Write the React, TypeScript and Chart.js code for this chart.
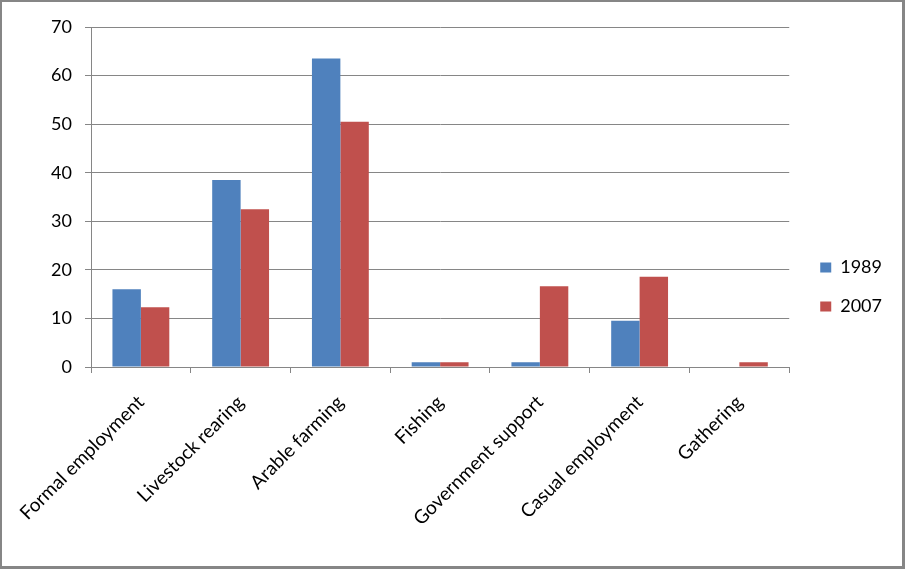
import React, { useEffect, useRef } from "react";
import { Chart, registerables } from "chart.js";

Chart.register(...registerables);

const categories = [
  "Formal employment",
  "Livestock rearing",
  "Arable farming",
  "Fishing",
  "Government support",
  "Casual employment",
  "Gathering",
];
const values1989 = [16, 38.5, 63.5, 1, 1, 9.5, 0];
const values2007 = [12.3, 32.5, 50.5, 1, 16.6, 18.6, 1];
const seriesLabels = ["1989", "2007"];
const yTicks = { min: 0, max: 70, step: 10 };

const FONT = "Lato, 'Open Sans', sans-serif";

const legendShift = {
  id: "legendShift",
  afterLayout(chart: any) {
    const lg = chart.legend;
    if (lg) {
      lg.left += 10;
      lg.right += 10;
    }
  },
};

export default function App() {
  const ref = useRef<HTMLCanvasElement | null>(null);

  useEffect(() => {
    if (!ref.current) return;
    const chart = new Chart(ref.current, {
      type: "bar",
      data: {
        labels: categories,
        datasets: [
          {
            label: seriesLabels[0],
            data: values1989,
            backgroundColor: "#4F81BD",
            borderWidth: 0,
          },
          {
            label: seriesLabels[1],
            data: values2007,
            backgroundColor: "#C0504D",
            borderWidth: 0,
          },
        ],
      },
      plugins: [legendShift],
      options: {
        animation: false,
        responsive: false,
        devicePixelRatio: 1,
        layout: { padding: { top: 25, right: 20, bottom: 19, left: 0 } },
        datasets: {
          bar: { categoryPercentage: 0.57, barPercentage: 1 },
        },
        plugins: {
          tooltip: { enabled: false },
          legend: {
            position: "right",
            labels: {
              boxWidth: 11,
              boxHeight: 10,
              padding: 21,
              color: "#000",
              font: { family: FONT, size: 18 },
            },
          },
        },
        scales: {
          x: {
            afterFit: (s: any) => {
              s.height = 180;
              s.paddingLeft = 0;
              s.paddingRight = 0;
            },
            grid: {
              display: true,
              drawOnChartArea: false,
              drawTicks: true,
              tickLength: 6,
              offset: true,
              color: "#868686",
            },
            border: { color: "#868686" },
            ticks: {
              minRotation: 45,
              maxRotation: 45,
              autoSkip: false,
              padding: 18,
              color: "#000",
              font: { family: FONT, size: 19 },
            },
          },
          y: {
            min: yTicks.min,
            max: yTicks.max,
            afterFit: (s: any) => {
              s.width = 89;
            },
            grid: {
              color: "#868686",
              tickLength: 6,
              drawTicks: true,
            },
            border: { color: "#868686" },
            ticks: {
              stepSize: yTicks.step,
              padding: 13,
              color: "#000",
              font: { family: FONT, size: 18 },
            },
          },
        },
      },
    });
    return () => chart.destroy();
  }, []);

  return (
    <div
      style={{
        position: "absolute",
        left: 0,
        top: 0,
        width: 905,
        height: 569,
        boxSizing: "border-box",
        borderStyle: "solid",
        borderColor: "#868686",
        borderWidth: "2px 3px 3px 2px",
        background: "#fff",
      }}
    >
      <canvas ref={ref} width={900} height={564} style={{ display: "block" }} />
    </div>
  );
}
